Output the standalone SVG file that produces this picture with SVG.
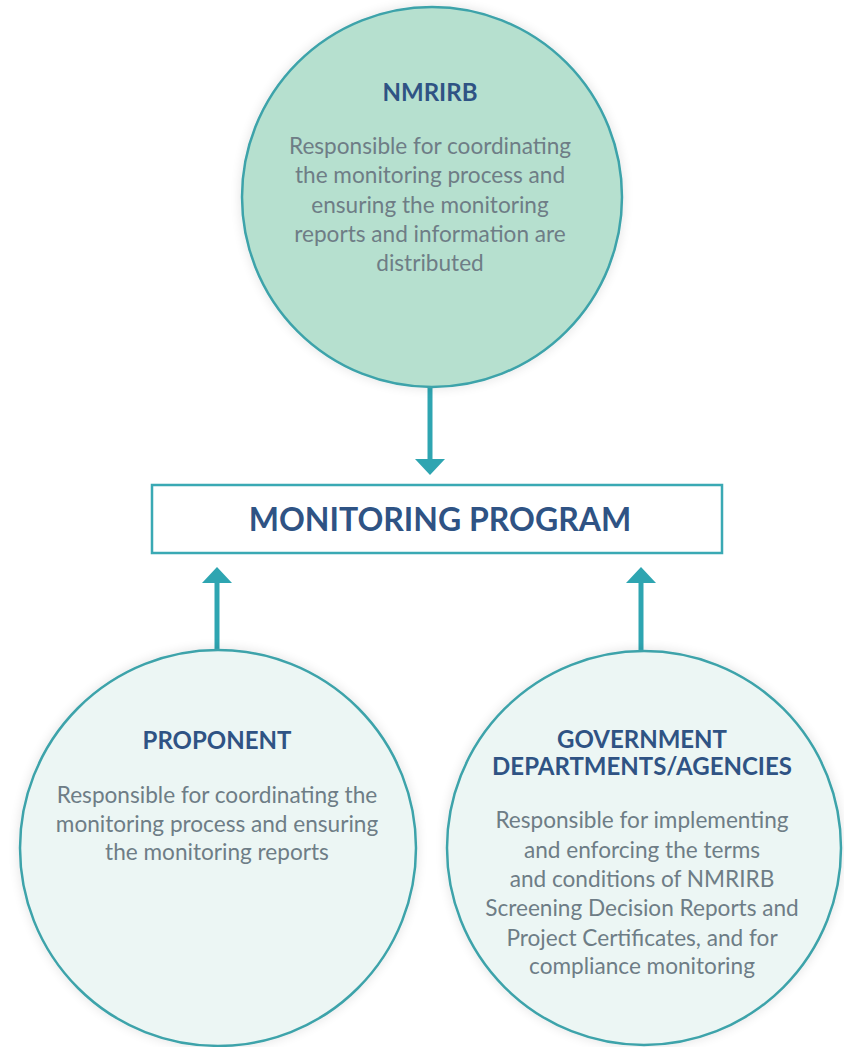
<svg xmlns="http://www.w3.org/2000/svg" width="844" height="1047" viewBox="0 0 844 1047">
<defs>
<style>
.title{font-family:Lato,"Liberation Sans",sans-serif;font-weight:700;fill:#2f5384;text-anchor:middle;font-size:24px}
.body{font-family:Lato,"Liberation Sans",sans-serif;font-weight:400;fill:#6e7d86;text-anchor:middle;font-size:22.6px}
.main{font-family:Lato,"Liberation Sans",sans-serif;font-weight:700;fill:#2f5384;text-anchor:middle;font-size:32px}
.circ{stroke:#3da3aa;stroke-width:2.5}
.conn{stroke:#2ea5b1;stroke-width:5;fill:none}
.head{fill:#2ea5b1}
</style>
<filter id="glow" x="-10%" y="-10%" width="120%" height="120%">
<feGaussianBlur in="SourceAlpha" stdDeviation="6"/>
<feComponentTransfer><feFuncA type="linear" slope="0.12"/></feComponentTransfer>
<feMerge><feMergeNode/><feMergeNode in="SourceGraphic"/></feMerge>
</filter>
</defs>
<rect width="844" height="1047" fill="#ffffff"/>
<g id="connectors">
<line class="conn" x1="430" y1="386" x2="430" y2="462"/>
<polygon class="head" points="415,459 445,459 430,475"/>
<line class="conn" x1="217" y1="650" x2="217" y2="580"/>
<polygon class="head" points="202,583 232,583 217,567"/>
<line class="conn" x1="641" y1="651" x2="641" y2="580"/>
<polygon class="head" points="626,583 656,583 641,567"/>
</g>
<g id="nmrirb">
<circle class="circ" cx="432" cy="197" r="190" fill="#b6e0cf" filter="url(#glow)"/>
<text class="title" x="430" y="101">NMRIRB</text>
<text class="body" x="430" y="154">Responsible for coordinating</text>
<text class="body" x="430" y="183">the monitoring process and</text>
<text class="body" x="430" y="213">ensuring the monitoring</text>
<text class="body" x="430" y="242">reports and information are</text>
<text class="body" x="430" y="271">distributed</text>
</g>
<g id="monitoring-program">
<rect x="152" y="485" width="570" height="68" fill="#ffffff" stroke="#3aa9b4" stroke-width="2.5"/>
<text class="main" x="440" y="531">MONITORING PROGRAM</text>
</g>
<g id="proponent">
<circle class="circ" cx="218" cy="848" r="198" fill="#ecf6f4" filter="url(#glow)"/>
<text class="title" x="217" y="749">PROPONENT</text>
<text class="body" x="217" y="803">Responsible for coordinating the</text>
<text class="body" x="217" y="832">monitoring process and ensuring</text>
<text class="body" x="217" y="860">the monitoring reports</text>
</g>
<g id="government">
<circle class="circ" cx="644" cy="848" r="197" fill="#ecf6f4" filter="url(#glow)"/>
<text class="title" x="642" y="748">GOVERNMENT</text>
<text class="title" x="642" y="775">DEPARTMENTS/AGENCIES</text>
<text class="body" x="642" y="828">Responsible for implementing</text>
<text class="body" x="642" y="858">and enforcing the terms</text>
<text class="body" x="642" y="887">and conditions of NMRIRB</text>
<text class="body" x="642" y="916">Screening Decision Reports and</text>
<text class="body" x="642" y="946">Project Certificates, and for</text>
<text class="body" x="642" y="974">compliance monitoring</text>
</g>
</svg>
